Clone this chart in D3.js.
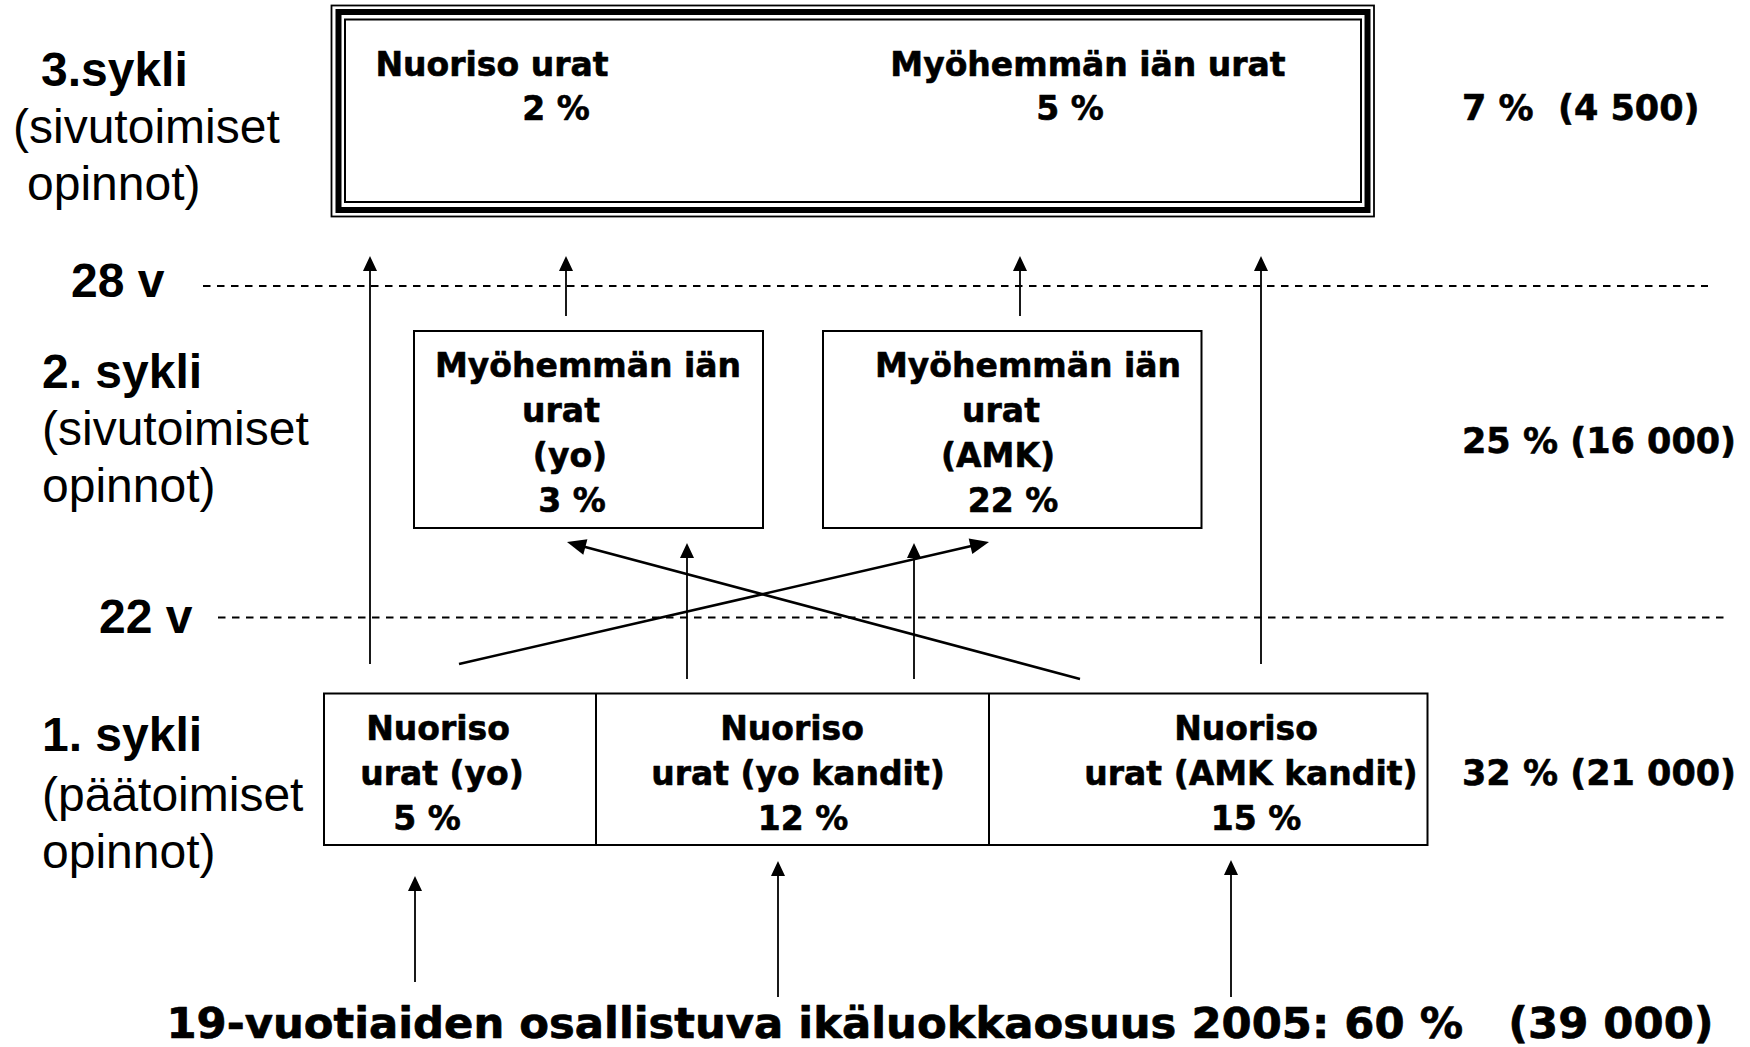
<!DOCTYPE html>
<html><head><meta charset="utf-8">
<script src="https://cdn.jsdelivr.net/npm/d3@7/dist/d3.min.js"></script>
<style>
html,body{margin:0;padding:0;background:#fff;}
svg{display:block;}
</style></head>
<body>
<svg id="chart" width="1750" height="1047"></svg>
<script>
// ---------- DATA ----------
const cycleTitles = ["3.sykli", "2. sykli", "1. sykli"];
const cycleSubtitles = [["(sivutoimiset", "opinnot)"], ["(sivutoimiset", "opinnot)"], ["(päätoimiset", "opinnot)"]];
const ageLabels = ["28 v", "22 v"];
const cycleTotals = ["7 %  (4 500)", "25 % (16 000)", "32 % (21 000)"];
const cycle3Names = [["Nuoriso urat"], ["Myöhemmän iän urat"]];
const cycle3Values = [2, 5];
const cycle2Names = [["Myöhemmän iän", "urat", "(yo)"], ["Myöhemmän iän", "urat", "(AMK)"]];
const cycle2Values = [3, 22];
const cycle1Names = [["Nuoriso", "urat (yo)"], ["Nuoriso", "urat (yo kandit)"], ["Nuoriso", "urat (AMK kandit)"]];
const cycle1Values = [5, 12, 15];
const sourceLabel = "19-vuotiaiden osallistuva ikäluokkaosuus 2005: 60 %   (39 000)";

// ---------- LAYOUT ----------
const svg = d3.select("#chart");
svg.append("rect").attr("width", 1750).attr("height", 1047).attr("fill", "#fff");
const BOLD = "'DejaVu Sans', Verdana, sans-serif";
const ARIAL = "'Liberation Sans', Arial, sans-serif";
const pct = v => v + " %";

function lines(texts, x, baselines, opts) {
  const g = svg.append("g");
  texts.forEach((t, i) => {
    const el = g.append("text")
      .attr("x", Array.isArray(x) ? x[i] : x)
      .attr("y", baselines[i])
      .attr("text-anchor", opts.anchor || "middle")
      .attr("font-family", opts.family)
      .attr("font-weight", opts.weight || "bold")
      .attr("font-size", opts.size)
      .attr("fill", "#000")
      .style("white-space", "pre")
      .attr("xml:space", "preserve")
      .text(t);
    if (opts.heavy) el.attr("stroke", "#000").attr("stroke-width", opts.heavy).attr("stroke-linejoin", "round");
  });
  return g;
}

// Left cycle labels
const leftLayout = [
  {x: [41, 13, 27], y: [86, 143, 200]},
  {x: [42, 42, 42], y: [388, 445, 502]},
  {x: [42, 42, 42], y: [751, 811, 868]}
];
cycleTitles.forEach((t, i) => {
  const L = leftLayout[i];
  lines([t], L.x[0], [L.y[0]], {anchor: "start", family: ARIAL, weight: "bold", size: 48});
  lines(cycleSubtitles[i], [L.x[1], L.x[2]], [L.y[1], L.y[2]], {anchor: "start", family: ARIAL, weight: "normal", size: 48});
});

// Right totals
const totalY = [120, 453, 785];
cycleTotals.forEach((t, i) => lines([t], 1462, [totalY[i]], {anchor: "start", family: BOLD, size: 35, heavy: 0.6}));

// Age lines
const ageLayout = [{lx: 71, ly: 297, x1: 203, x2: 1708, y: 286}, {lx: 99, ly: 633, x1: 218, x2: 1724, y: 617.5}];
ageLabels.forEach((a, i) => {
  const L = ageLayout[i];
  lines([a], L.lx, [L.ly], {anchor: "start", family: ARIAL, weight: "bold", size: 48});
  svg.append("line").attr("x1", L.x1).attr("x2", L.x2).attr("y1", L.y).attr("y2", L.y)
    .attr("stroke", "#000").attr("stroke-width", 2).attr("stroke-dasharray", "7.5,6.5");
});

// Cycle 3 box (triple border)
[[331.5, 5.5, 1374, 216.5, 1.8], [338.5, 12, 1367.5, 210, 6], [345, 19.5, 1361, 202, 2]].forEach(r => {
  svg.append("rect").attr("x", r[0]).attr("y", r[1]).attr("width", r[2] - r[0]).attr("height", r[3] - r[1])
    .attr("fill", "none").attr("stroke", "#000").attr("stroke-width", r[4]);
});
const c3x = [[492, 556], [1088, 1070]];
cycle3Names.forEach((n, i) => {
  lines([n[0], pct(cycle3Values[i])], c3x[i], [76, 120], {family: BOLD, size: 33, heavy: 0.6});
});

// Cycle 2 boxes
const c2box = [[414, 331, 763, 528], [823, 331, 1201.5, 528]];
const c2x = [[588, 561, 570, 572], [1028, 1001, 998, 1013]];
cycle2Names.forEach((n, i) => {
  const b = c2box[i];
  svg.append("rect").attr("x", b[0]).attr("y", b[1]).attr("width", b[2] - b[0]).attr("height", b[3] - b[1])
    .attr("fill", "none").attr("stroke", "#000").attr("stroke-width", 2);
  lines(n.concat([pct(cycle2Values[i])]), c2x[i], [377, 422, 467, 512], {family: BOLD, size: 33, heavy: 0.6});
});

// Cycle 1 box with cells
const c1edges = [324, 596, 989, 1427.5];
const c1top = 693.5, c1bot = 845;
svg.append("rect").attr("x", c1edges[0]).attr("y", c1top).attr("width", c1edges[3] - c1edges[0]).attr("height", c1bot - c1top)
  .attr("fill", "none").attr("stroke", "#000").attr("stroke-width", 2);
[c1edges[1], c1edges[2]].forEach(x => svg.append("line").attr("x1", x).attr("x2", x).attr("y1", c1top).attr("y2", c1bot)
  .attr("stroke", "#000").attr("stroke-width", 2));
const c1x = [[438, 442, 427], [792, 798, 803], [1246, 1251, 1256]];
cycle1Names.forEach((n, i) => {
  lines(n.concat([pct(cycle1Values[i])]), c1x[i], [740, 785, 830], {family: BOLD, size: 33, heavy: 0.6});
});

// Source label
lines([sourceLabel], 940, [1038], {family: BOLD, size: 43.3, heavy: 0.7});

// Arrows
function arrow(x1, y1, x2, y2, sw, hl, hw) {
  const dx = x2 - x1, dy = y2 - y1, len = Math.hypot(dx, dy);
  const ux = dx / len, uy = dy / len, px = -uy, py = ux;
  const bx = x2 - ux * hl, by = y2 - uy * hl;
  svg.append("line").attr("x1", x1).attr("y1", y1).attr("x2", bx + ux * 2).attr("y2", by + uy * 2)
    .attr("stroke", "#000").attr("stroke-width", sw);
  svg.append("path")
    .attr("d", d3.line()([[x2, y2], [bx + px * hw / 2, by + py * hw / 2], [bx - px * hw / 2, by - py * hw / 2]]) + "Z")
    .attr("fill", "#000");
}
const straightArrows = [
  [370, 664, 370, 256], [1261, 664, 1261, 256],
  [566, 316, 566, 256], [1020, 316, 1020, 256],
  [687, 679, 687, 543], [914, 679, 914, 543],
  [415, 982, 415, 876], [778, 997, 778, 861], [1231, 997, 1231, 860]
];
straightArrows.forEach(a => arrow(a[0], a[1], a[2], a[3], 1.8, 15, 14));
const crossArrows = [[459, 664, 989, 542], [1080, 679, 567, 542]];
crossArrows.forEach(a => arrow(a[0], a[1], a[2], a[3], 2.6, 19, 16));
</script>
</body></html>
